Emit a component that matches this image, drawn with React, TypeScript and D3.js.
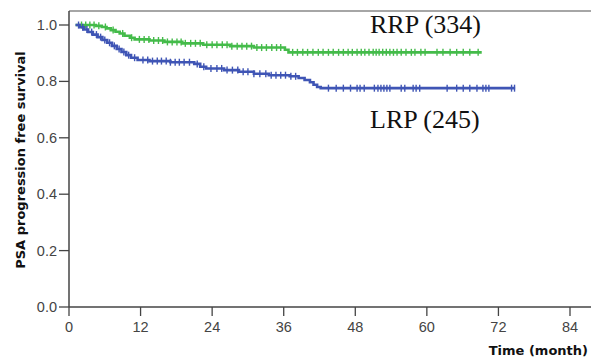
import React from "react";
import * as d3 from "d3";

const xTicks = [0, 12, 24, 36, 48, 60, 72, 84];
const yTicks = [0.0, 0.2, 0.4, 0.6, 0.8, 1.0];

// RRP (green) Kaplan-Meier steps: [time, survival]
const rrpSteps: [number, number][] = [
  [1.1, 1.0], [4.5, 0.997], [5.5, 0.993], [6.3, 0.988], [7.0, 0.982], [7.8, 0.976],
  [8.5, 0.97], [9.3, 0.962], [10.2, 0.955], [11.0, 0.949], [13.5, 0.945], [16.0, 0.94],
  [19.0, 0.935], [22.5, 0.93], [27.0, 0.925], [31.0, 0.92], [36.2, 0.912], [36.8, 0.903],
];
const rrpEnd = 69.2;
const rrpCensor = [2.1, 2.8, 3.5, 4.2, 5.0, 6.1, 7.4, 9.0, 10.5, 11.8, 12.6, 13.4, 14.2, 15.0, 15.7,
  16.5, 17.3, 18.1, 18.8, 19.5, 20.4, 21.2, 22.0, 23.1, 24.0, 24.8, 25.7, 26.5, 27.3, 28.2, 29.0,
  29.8, 30.6, 31.5, 32.3, 33.1, 34.0, 34.8, 35.5, 37.5, 38.3, 39.2, 40.0, 40.9, 41.8, 42.6, 43.5,
  44.3, 45.2, 46.0, 46.8, 47.5, 48.3, 49.0, 49.6, 50.3, 51.0, 51.5, 52.0, 52.6, 53.2, 53.8, 54.4,
  55.0, 55.7, 56.5, 57.4, 58.0, 59.0, 59.7, 61.7, 62.7, 63.9, 65.0, 66.1, 67.2, 68.6];

// LRP (blue) Kaplan-Meier steps
const lrpSteps: [number, number][] = [
  [1.1, 1.0], [1.8, 0.992], [2.5, 0.984], [3.2, 0.975], [4.0, 0.966], [4.8, 0.957], [5.6, 0.947],
  [6.4, 0.937], [7.2, 0.926], [8.0, 0.915], [8.8, 0.904], [9.6, 0.893], [10.4, 0.884], [11.5, 0.876],
  [13.5, 0.872], [17.0, 0.868], [21.0, 0.862], [22.0, 0.852], [23.0, 0.846], [26.0, 0.84],
  [28.5, 0.834], [31.0, 0.827], [33.5, 0.822], [37.0, 0.818], [38.5, 0.812], [39.5, 0.805],
  [40.4, 0.797], [41.0, 0.788], [41.6, 0.78], [42.2, 0.776],
];
const lrpEnd = 74.8;
const lrpCensor = [1.6, 2.3, 3.0, 3.8, 4.6, 5.3, 6.0, 6.8, 7.6, 8.4, 9.2, 10.0, 11.0, 12.4, 13.2, 14.0,
  14.8, 15.5, 16.3, 17.0, 17.8, 18.5, 19.3, 20.2, 21.5, 22.6, 23.8, 24.8, 25.6, 26.5, 27.4, 28.3,
  29.2, 30.0, 31.0, 32.0, 33.0, 33.9, 34.7, 35.5, 36.3, 37.2, 38.0, 43.5, 44.8, 46.0, 47.2, 48.3,
  48.8, 49.5, 51.2, 51.8, 52.3, 52.8, 53.3, 53.8, 55.7, 56.3, 57.7, 58.2, 58.8, 63.4, 65.0, 66.1,
  67.2, 68.4, 69.4, 69.9, 70.4, 74.2, 74.7];

const GREEN = "#44bb4a";
const BLUE = "#3f55b5";

const x = d3.scaleLinear().domain([0, 84]).range([69, 570]);
const y = d3.scaleLinear().domain([0, 1]).range([307, 25]);

function survAt(steps: [number, number][], t: number) {
  let v = steps[0][1];
  for (const s of steps) if (s[0] <= t) v = s[1];
  return v;
}

function Curve({ steps, end, censor, color }: { steps: [number, number][]; end: number; censor: number[]; color: string }) {
  const pts: [number, number][] = [...steps, [end, steps[steps.length - 1][1]]];
  const line = d3.line<[number, number]>().x(d => x(d[0])).y(d => y(d[1])).curve(d3.curveStepAfter);
  return (
    <g>
      <path d={line(pts) || ""} fill="none" stroke={color} strokeWidth={2.6} />
      {censor.map((t, i) => (
        <line key={i} x1={x(t)} x2={x(t)} y1={y(survAt(steps, t)) - 3.5} y2={y(survAt(steps, t)) + 3.5}
          stroke={color} strokeWidth={1.4} />
      ))}
    </g>
  );
}

export default function App() {
  const axisColor = "#444";
  return (
    <svg width={591} height={358} style={{ position: "absolute", left: 0, top: 0, background: "#fff" }}>
      <rect x={0} y={0} width={591} height={358} fill="#fff" />
      <line x1={69} x2={591} y1={11} y2={11} stroke="#888" strokeWidth={1.5} />
      <line x1={69} x2={69} y1={11} y2={307} stroke={axisColor} strokeWidth={1.5} />
      <line x1={69} x2={591} y1={307} y2={307} stroke={axisColor} strokeWidth={1.5} />
      {yTicks.map(v => (
        <g key={v}>
          <line x1={59} x2={69} y1={y(v)} y2={y(v)} stroke={axisColor} strokeWidth={1.3} />
          <text x={57} y={y(v) + 5} textAnchor="end" fontFamily="Liberation Sans, Arial" fontSize={14.5} fill="#444">
            {v.toFixed(1)}
          </text>
        </g>
      ))}
      {xTicks.map(v => (
        <g key={v}>
          <line x1={x(v)} x2={x(v)} y1={307} y2={316} stroke={axisColor} strokeWidth={1.3} />
          <text x={x(v)} y={332} textAnchor="middle" fontFamily="Liberation Sans, Arial" fontSize={14.5} fill="#444">
            {v}
          </text>
        </g>
      ))}
      <text x={588} y={355} textAnchor="end" fontFamily="DejaVu Sans" fontWeight="bold" fontSize={13} fill="#111">
        Time (month)
      </text>
      <text transform="translate(25,160) rotate(-90)" textAnchor="middle" fontFamily="DejaVu Sans" fontWeight="bold" fontSize={13} fill="#111">
        PSA progression free survival
      </text>
      <Curve steps={rrpSteps} end={rrpEnd} censor={rrpCensor} color={GREEN} />
      <Curve steps={lrpSteps} end={lrpEnd} censor={lrpCensor} color={BLUE} />
      <text x={370} y={32.5} fontFamily="Liberation Serif, Times New Roman" fontSize={26} fill="#111">RRP (334)</text>
      <text x={370} y={128} fontFamily="Liberation Serif, Times New Roman" fontSize={26} fill="#111">LRP (245)</text>
    </svg>
  );
}
